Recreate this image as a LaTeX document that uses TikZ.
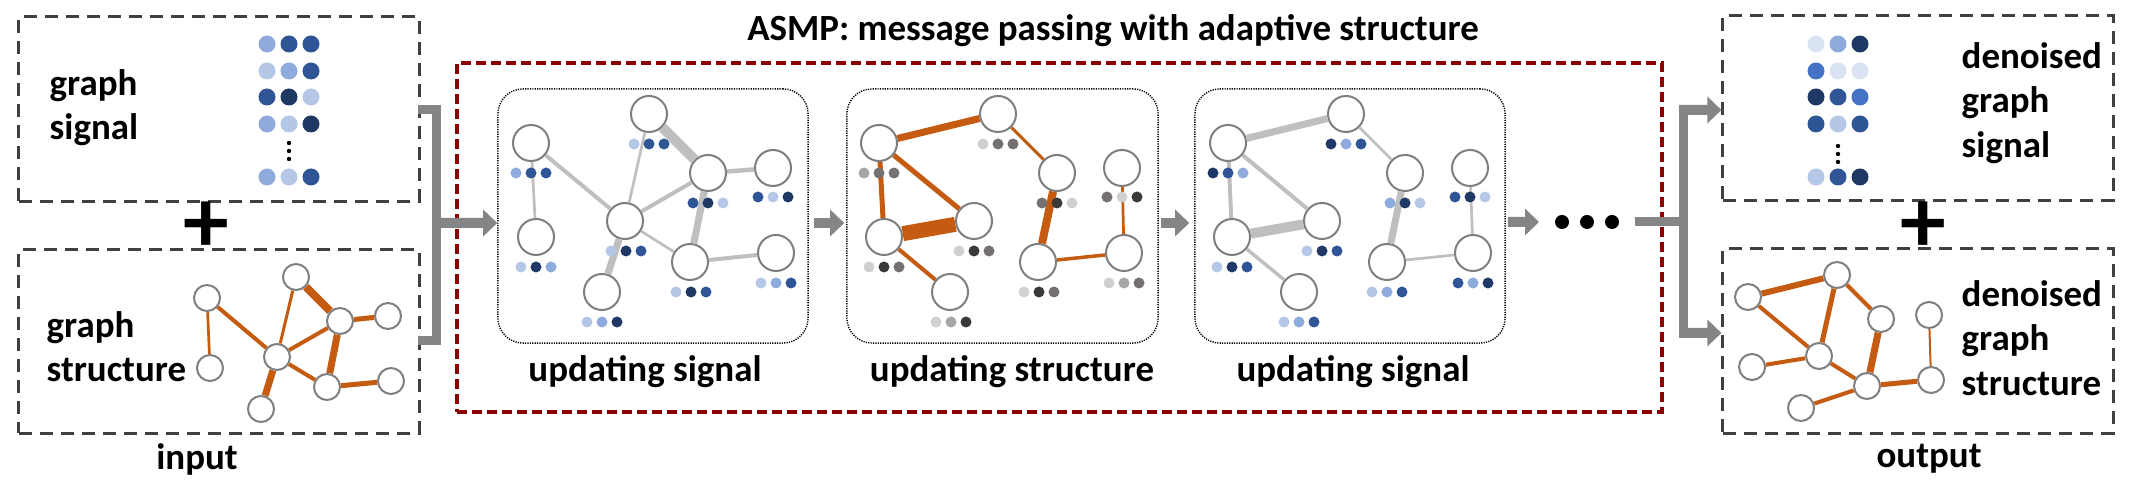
\documentclass[tikz,border=0pt]{standalone}
\usepackage{fontspec}
\setmainfont{Carlito}
\usetikzlibrary{arrows.meta}
\definecolor{blight}{HTML}{B4C7E7}
\definecolor{bmed}{HTML}{8FAADC}
\definecolor{bdark}{HTML}{2F5597}
\definecolor{bvdark}{HTML}{203864}
\definecolor{bbright}{HTML}{4472C4}
\definecolor{bvlight}{HTML}{DAE3F3}
\definecolor{glt}{HTML}{D0D0D0}
\definecolor{gmed}{HTML}{A6A6A6}
\definecolor{gdk}{HTML}{767171}
\definecolor{gvdk}{HTML}{3B3838}
\definecolor{eorange}{HTML}{C55A11}
\definecolor{egray}{HTML}{BFBFBF}
\definecolor{ngray}{HTML}{7F7F7F}
\definecolor{agray}{HTML}{858585}
\definecolor{dred}{HTML}{8B0000}
\definecolor{boxgray}{HTML}{404040}
\newcommand{\tdots}[5]{%
  \fill[#3] (#1-15,#2) circle[radius=0.055cm];
  \fill[#4] (#1,#2) circle[radius=0.055cm];
  \fill[#5] (#1+15,#2) circle[radius=0.055cm];}
\newcommand{\sigrow}[5]{%
  \fill[#3] (#1-22,#2) circle[radius=0.085cm];
  \fill[#4] (#1,#2) circle[radius=0.085cm];
  \fill[#5] (#1+22,#2) circle[radius=0.085cm];}
\newcommand{\vdotcol}[2]{%
  \fill (#1,#2) circle[radius=0.022cm];
  \fill (#1,#2+8) circle[radius=0.022cm];
  \fill (#1,#2+16) circle[radius=0.022cm];}
\begin{document}
\begin{tikzpicture}[x=0.01cm,y=-0.01cm,
  gn/.style={circle,draw=ngray,fill=white,line width=0.02cm,minimum size=0.26cm,inner sep=0pt},
  pn/.style={gn,minimum size=0.36cm},
  oe/.style={draw=eorange},
  ge/.style={draw=egray},
  dbox/.style={draw=boxgray,dash pattern=on 0.13cm off 0.08cm,line width=0.03cm,inner sep=0pt},
  redbox/.style={draw=dred,dash pattern=on 0.1cm off 0.05cm,line width=0.04cm,inner sep=0pt},
  panel/.style={draw=black,rounded corners=0.25cm,line width=0.014cm,dash pattern=on 0.012cm off 0.012cm,inner sep=0pt},
  lbl/.style={font=\bfseries\fontsize{10.5pt}{12.6pt}\selectfont,align=left,inner sep=0pt},
  plus/.style={font=\bfseries\fontsize{26pt}{26pt}\selectfont,inner sep=0pt},
  gline/.style={draw=agray,line width=0.09cm},
  garrow/.style={draw=agray,line width=0.1cm,-{Triangle[length=0.14cm,width=0.26cm]}}]
\useasboundingbox (0,0) rectangle (2131,489);

% ---------- boxes ----------
\node[dbox,minimum width=4cm,minimum height=1.84cm] (sigin) at (219,109) {};
\node[dbox,minimum width=4cm,minimum height=1.83cm] (strin) at (219,341.5) {};
\node[dbox,minimum width=3.9cm,minimum height=1.84cm] (sigout) at (1918,108) {};
\node[dbox,minimum width=3.9cm,minimum height=1.84cm] (strout) at (1918,341) {};
\node[redbox,minimum width=12.05cm,minimum height=3.49cm] (asmp) at (1059.5,237.5) {};
\node[panel,minimum width=3.1cm,minimum height=2.54cm] (P1) at (653,216) {};
\node[panel,minimum width=3.11cm,minimum height=2.54cm] (P2) at (1002.5,216) {};
\node[panel,minimum width=3.1cm,minimum height=2.54cm] (P3) at (1350,216) {};

% ---------- texts ----------
\node[lbl,anchor=west] (tsin) at (49,108) {graph\\signal};
\node[lbl,anchor=west] (tstin) at (46,347) {graph\\structure};
\node[lbl,anchor=west] (tsout) at (1961,103) {denoised\\graph\\signal};
\node[lbl,anchor=west] (tstout) at (1961,338) {denoised\\graph\\structure};
\node[lbl] (tin) at (197,459) {input};
\node[lbl] (tout) at (1929,459) {output};
\node[plus] (plusin) at (206,227) {+};
\node[plus] (plusout) at (1923,227) {+};
\node[lbl] (title) at (1113,31) {ASMP: message passing with adaptive structure};
\node[lbl] (l1) at (645,372) {updating signal};
\node[lbl] (l2) at (1012,372) {updating structure};
\node[lbl] (l3) at (1353,372) {updating signal};

% ---------- signal matrices ----------
\sigrow{289}{44}{bmed}{bdark}{bdark}
\sigrow{289}{71}{blight}{bmed}{bdark}
\sigrow{289}{97}{bdark}{bvdark}{blight}
\sigrow{289}{124}{bmed}{blight}{bvdark}
\vdotcol{289}{143}
\sigrow{289}{177}{bmed}{blight}{bdark}

\sigrow{1838}{44}{bvlight}{bmed}{bvdark}
\sigrow{1838}{71}{bbright}{bvlight}{bvlight}
\sigrow{1838}{97}{bvdark}{bdark}{bbright}
\sigrow{1838}{124}{bdark}{blight}{bdark}
\vdotcol{1838}{146}
\sigrow{1838}{177}{blight}{bdark}{bvdark}

% ---------- input graph ----------
\node[gn] (a1) at (207,298) {};
\node[gn] (a2) at (210,368) {};
\node[gn] (a3) at (296,277) {};
\node[gn] (a4) at (340,321) {};
\node[gn] (a5) at (388,316) {};
\node[gn] (a6) at (277,357) {};
\node[gn] (a7) at (327,387) {};
\node[gn] (a8) at (391,381) {};
\node[gn] (a9) at (261,409) {};
\draw[oe,line width=0.027cm] (a1) -- (a2);
\draw[oe,line width=0.04cm] (a1) -- (a6);
\draw[oe,line width=0.03cm] (a3) -- (a6);
\draw[oe,line width=0.08cm] (a3) -- (a4);
\draw[oe,line width=0.05cm] (a4) -- (a5);
\draw[oe,line width=0.04cm] (a4) -- (a6);
\draw[oe,line width=0.07cm] (a4) -- (a7);
\draw[oe,line width=0.04cm] (a6) -- (a7);
\draw[oe,line width=0.05cm] (a7) -- (a8);
\draw[oe,line width=0.07cm] (a6) -- (a9);

% ---------- output graph ----------
\node[gn] (q1) at (1748,297) {};
\node[gn] (q2) at (1837,275) {};
\node[gn] (q3) at (1881,319) {};
\node[gn] (q4) at (1929,315) {};
\node[gn] (q5) at (1752,367) {};
\node[gn] (q6) at (1819,356) {};
\node[gn] (q7) at (1867,386) {};
\node[gn] (q8) at (1931,380) {};
\node[gn] (q9) at (1801,408) {};
\draw[oe,line width=0.06cm] (q1) -- (q2);
\draw[oe,line width=0.04cm] (q1) -- (q6);
\draw[oe,line width=0.05cm] (q2) -- (q6);
\draw[oe,line width=0.04cm] (q2) -- (q3);
\draw[oe,line width=0.07cm] (q3) -- (q7);
\draw[oe,line width=0.04cm] (q6) -- (q7);
\draw[oe,line width=0.04cm] (q5) -- (q6);
\draw[oe,line width=0.04cm] (q7) -- (q9);
\draw[oe,line width=0.05cm] (q7) -- (q8);
\draw[oe,line width=0.02cm] (q4) -- (q8);

% ---------- panel 1 ----------
\node[pn] (n1) at (531,143) {};
\node[pn] (n2) at (536,237) {};
\node[pn] (n3) at (649,114) {};
\node[pn] (n4) at (625,221) {};
\node[pn] (n5) at (708,173) {};
\node[pn] (n6) at (773,168) {};
\node[pn] (n7) at (690,262) {};
\node[pn] (n8) at (776,253) {};
\node[pn] (n9) at (602,292) {};
\draw[ge,line width=0.027cm] (n1) -- (n2);
\draw[ge,line width=0.04cm] (n1) -- (n4);
\draw[ge,line width=0.027cm] (n3) -- (n4);
\draw[ge,line width=0.1cm] (n3) -- (n5);
\draw[ge,line width=0.04cm] (n4) -- (n5);
\draw[ge,line width=0.045cm] (n5) -- (n6);
\draw[ge,line width=0.07cm] (n5) -- (n7);
\draw[ge,line width=0.027cm] (n4) -- (n7);
\draw[ge,line width=0.04cm] (n7) -- (n8);
\draw[ge,line width=0.07cm] (n4) -- (n9);
\tdots{531}{173}{bmed}{bdark}{bdark}
\tdots{649}{144}{blight}{bdark}{bdark}
\tdots{708}{203}{bdark}{bvdark}{blight}
\tdots{773}{197}{bdark}{blight}{bvdark}
\tdots{536}{267}{blight}{bvdark}{bmed}
\tdots{626}{251}{blight}{bvdark}{bdark}
\tdots{691}{292}{blight}{bvdark}{bdark}
\tdots{776}{283}{blight}{bmed}{bdark}
\tdots{602}{322}{blight}{bmed}{bvdark}

% ---------- panel 2 ----------
\node[pn] (m1) at (879,143) {};
\node[pn] (m2) at (998,114) {};
\node[pn] (m3) at (1057,173) {};
\node[pn] (m4) at (1122,168) {};
\node[pn] (m5) at (884,237) {};
\node[pn] (m6) at (974,221) {};
\node[pn] (m7) at (1038,262) {};
\node[pn] (m8) at (1124,253) {};
\node[pn] (m9) at (950,292) {};
\draw[oe,line width=0.07cm] (m1) -- (m2);
\draw[oe,line width=0.05cm] (m1) -- (m5);
\draw[oe,line width=0.05cm] (m1) -- (m6);
\draw[oe,line width=0.15cm] (m5) -- (m6);
\draw[oe,line width=0.04cm] (m5) -- (m9);
\draw[oe,line width=0.03cm] (m2) -- (m3);
\draw[oe,line width=0.08cm] (m3) -- (m7);
\draw[oe,line width=0.035cm] (m7) -- (m8);
\draw[oe,line width=0.027cm] (m4) -- (m8);
\tdots{879}{173}{gmed}{gdk}{gdk}
\tdots{998}{144}{glt}{gdk}{gdk}
\tdots{1057}{203}{gdk}{gvdk}{glt}
\tdots{1122}{197}{gdk}{glt}{gvdk}
\tdots{884}{267}{glt}{gvdk}{gdk}
\tdots{974}{251}{glt}{gvdk}{gdk}
\tdots{1039}{292}{glt}{gvdk}{gdk}
\tdots{1124}{283}{glt}{gmed}{gdk}
\tdots{951}{322}{glt}{gmed}{gvdk}

% ---------- panel 3 ----------
\node[pn] (p1) at (1228,143) {};
\node[pn] (p2) at (1346,114) {};
\node[pn] (p3) at (1405,173) {};
\node[pn] (p4) at (1470,168) {};
\node[pn] (p5) at (1232,237) {};
\node[pn] (p6) at (1322,221) {};
\node[pn] (p7) at (1387,262) {};
\node[pn] (p8) at (1473,253) {};
\node[pn] (p9) at (1299,292) {};
\draw[ge,line width=0.07cm] (p1) -- (p2);
\draw[ge,line width=0.04cm] (p1) -- (p5);
\draw[ge,line width=0.04cm] (p1) -- (p6);
\draw[ge,line width=0.1cm] (p5) -- (p6);
\draw[ge,line width=0.035cm] (p5) -- (p9);
\draw[ge,line width=0.027cm] (p2) -- (p3);
\draw[ge,line width=0.07cm] (p3) -- (p7);
\draw[ge,line width=0.027cm] (p7) -- (p8);
\draw[ge,line width=0.027cm] (p4) -- (p8);
\tdots{1228}{173}{bvdark}{bdark}{bmed}
\tdots{1346}{144}{bvdark}{bmed}{bdark}
\tdots{1405}{203}{bmed}{bvdark}{blight}
\tdots{1470}{197}{bdark}{bvdark}{blight}
\tdots{1232}{267}{blight}{bvdark}{bdark}
\tdots{1322}{251}{blight}{bvdark}{bdark}
\tdots{1387}{292}{blight}{bmed}{bdark}
\tdots{1473}{283}{bdark}{bmed}{bvdark}
\tdots{1299}{322}{blight}{bmed}{bdark}

% ---------- connectors ----------
\coordinate (lb) at (436,223);
\draw[gline] (418,110) -- (436,110) -- (436,341) -- (418,341);
\draw[garrow] (lb) -- ([yshift=-0.07cm]P1.west);
\draw[garrow] ([xshift=0.05cm,yshift=-0.07cm]P1.east) -- ([xshift=-0.02cm,yshift=-0.07cm]P2.west);
\draw[garrow] ([xshift=0.02cm,yshift=-0.07cm]P2.east) -- ([xshift=-0.05cm,yshift=-0.07cm]P3.west);
\coordinate (dd) at (1539,222);
\draw[garrow] ([xshift=0.02cm,yshift=-0.06cm]P3.east) -- (dd);
\fill (1562,222) circle[radius=0.07cm];
\fill (1587,222) circle[radius=0.07cm];
\fill (1612,222) circle[radius=0.07cm];
\coordinate (rs) at (1635,222);
\coordinate (rb) at (1683,222);
\draw[gline] (rs) -- (rb);
\draw[gline] (1683,106) -- (1683,338);
\draw[garrow] (1679,110) -- ([yshift=-0.02cm]sigout.west);
\draw[garrow] (1679,333) -- ([yshift=0.08cm]strout.west);
\end{tikzpicture}
\end{document}
